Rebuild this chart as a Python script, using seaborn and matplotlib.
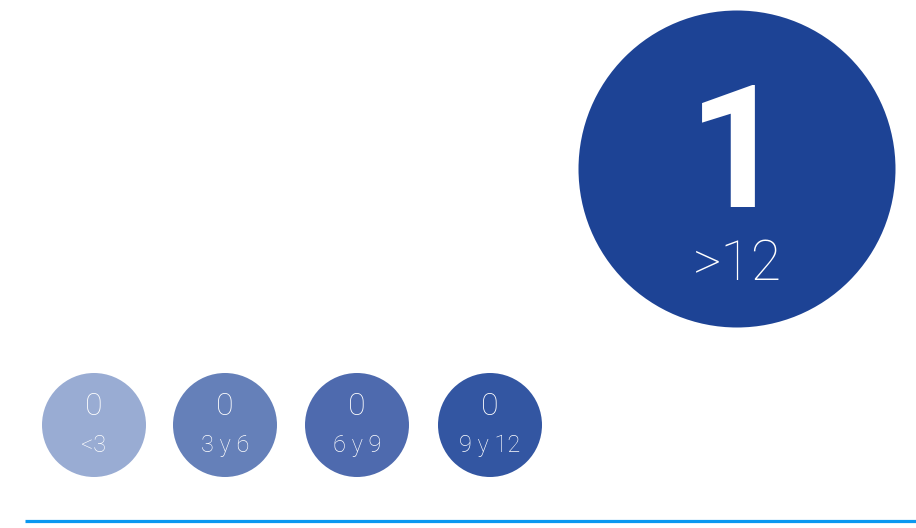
import matplotlib
matplotlib.use("Agg")
import matplotlib.pyplot as plt
import seaborn as sns
import pandas as pd

categories = ["<3", "3 y 6", "6 y 9", "9 y 12", ">12"]
values = [0, 0, 0, 0, 1]
colors = ["#99acd3", "#6580b9", "#4e6aae", "#3356a2", "#1d4395"]

sns.set_theme(style="white")
plt.rcParams["font.family"] = ["Roboto", "DejaVu Sans"]

# layout (pixel coordinates)
W, H = 916, 528
xs = [94, 225, 357, 490, 737]
ys = [425, 425, 425, 425, 169]
kinds = ["small", "small", "small", "small", "big"]

df = pd.DataFrame({"cat": categories, "val": values, "x": xs, "y": ys, "kind": kinds})

fig = plt.figure(figsize=(W / 100, H / 100), dpi=100)
ax = fig.add_axes([0, 0, 1, 1])
d_small, d_big = 104, 317
sns.scatterplot(data=df, x="x", y="y", hue="cat", palette=dict(zip(categories, colors)),
                size="kind", sizes={"small": (d_small * 0.72) ** 2, "big": (d_big * 0.72) ** 2},
                linewidth=0, legend=False, ax=ax)
ax.set_xlim(0, W)
ax.set_ylim(H, 0)
ax.axis("off")

for _, r in df.iterrows():
    if r["kind"] == "small":
        ax.text(r["x"], r["y"] - 10, str(r["val"]), ha="center", va="baseline",
                color="white", fontsize=23, fontweight="light")
        ax.text(r["x"], r["y"] + 27, r["cat"], ha="center", va="baseline",
                color="white", fontsize=17, fontweight="light")
    else:
        ax.text(r["x"], r["y"] + 38, str(r["val"]), ha="center", va="baseline",
                color="white", fontsize=123, fontweight="bold")
        ax.text(r["x"], r["y"] + 111, r["cat"], ha="center", va="baseline",
                color="white", fontsize=40, fontweight="light")

ax.plot([25, W], [521, 521], color="#0a98f0", lw=2.3, solid_capstyle="butt")

fig.savefig("out.png", dpi=100)
